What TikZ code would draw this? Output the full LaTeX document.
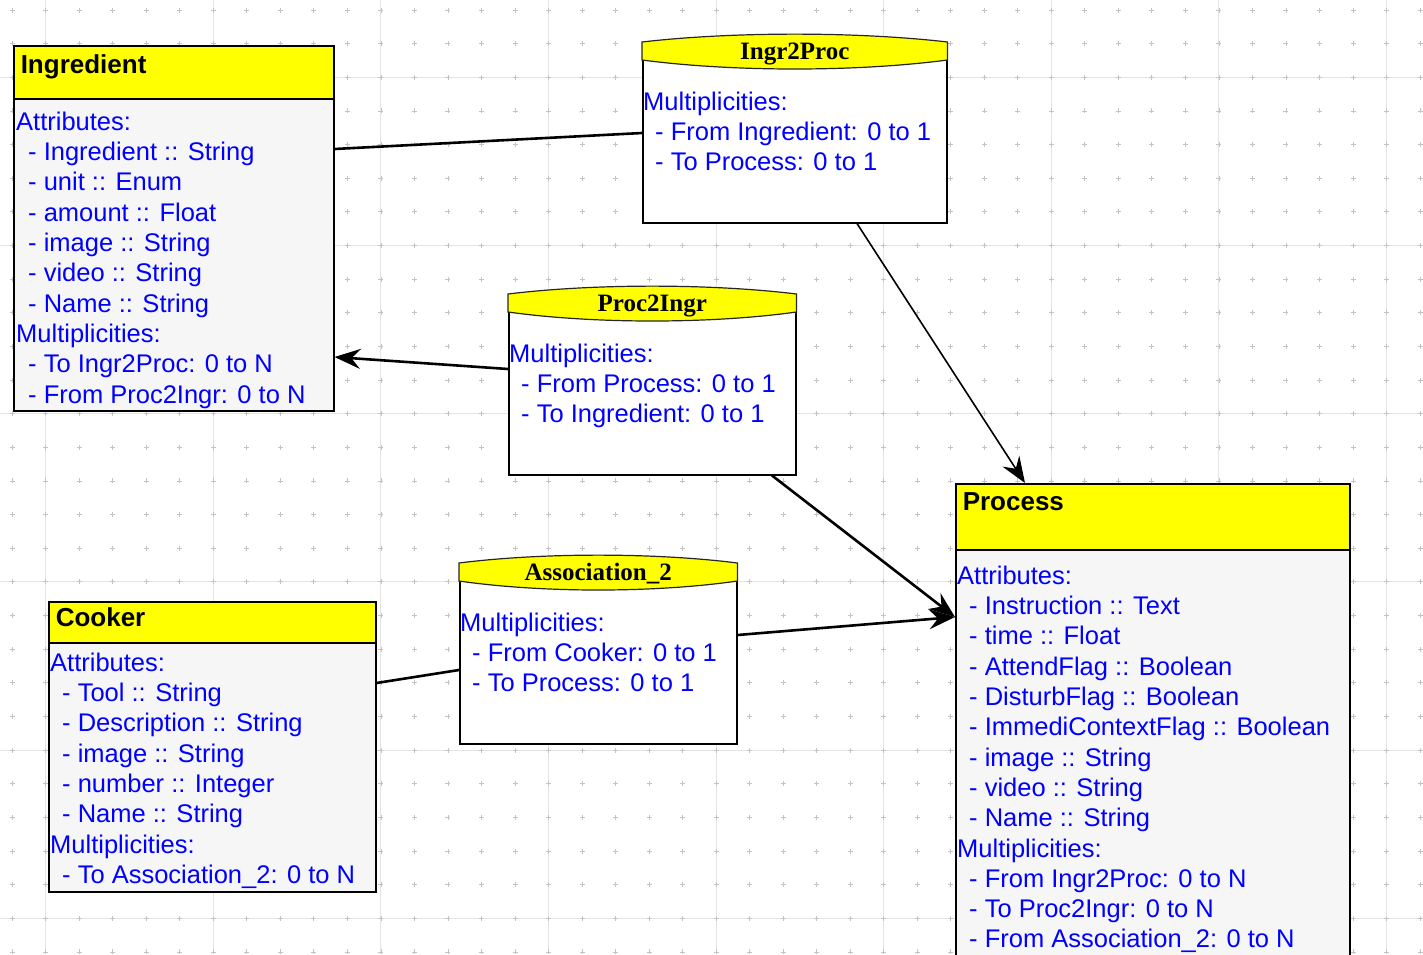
\documentclass[tikz,border=0pt]{standalone}
\usepackage{fontspec}
\setmainfont{Liberation Sans}
\newfontfamily\assocfont{Liberation Serif}
\usetikzlibrary{arrows.meta, positioning}
\definecolor{headcolor}{RGB}{255, 255, 0}
\definecolor{bodycolor}{RGB}{246, 246, 246}
\definecolor{fieldcolor}{RGB}{0, 0, 255}
\definecolor{gridcolor}{RGB}{228, 228, 228}
\definecolor{dotcolor}{RGB}{195, 195, 195}
\newcommand{\fld}{\hspace*{12pt}-\ }
\tikzset{
    % Class boxes
    classhead/.style={
        draw=black, line width=1.5pt, fill=headcolor,
        anchor=north west, inner xsep=7pt, inner ysep=0pt, align=left,
        font=\fontsize{26}{30}\selectfont\bfseries
    },
    classbody/.style={draw=black, line width=1.5pt, fill=bodycolor, anchor=north west, inner sep=0pt},
    fieldtext/.style={inner sep=0pt, align=left, text=fieldcolor, font=\fontsize{25.5}{30.3}\selectfont},
    % Association boxes
    assocbody/.style={draw=black, line width=1.5pt, fill=white, anchor=north west, inner sep=0pt},
    assochead/.style={draw=black!85, line width=1.2pt, fill=headcolor},
    assoctitle/.style={anchor=base, inner sep=0pt, font=\assocfont\fontsize{25}{30}\selectfont\bfseries},
    % Connectors
    assoclink/.style={line width=2.6pt, black},
    thinlink/.style={line width=1.6pt, black},
    arrowlink/.style={-{Stealth[length=26pt, width=20pt, inset=9pt]}},
    % Grid
    gridline/.style={gridcolor, line width=1pt},
    griddot/.style={dotcolor, line width=0.8pt},
}

\begin{document}
\begin{tikzpicture}[x=1pt, y=-1pt]

\path[use as bounding box] (0,0) rectangle (1423,954);
\clip (0,0) rectangle (1423,954);

% Background grid
\foreach \gx in {0,...,8} \draw[gridline] (45.7+167.6*\gx, 0) -- (45.7+167.6*\gx, 954);
\foreach \gy in {0,...,5} \draw[gridline] (0, 77.3+168.2*\gy) -- (1423, 77.3+168.2*\gy);
\foreach \gx in {0,...,42} \foreach \gy in {0,...,28}
    \draw[griddot] (12.2+33.52*\gx, 10+33.64*\gy) +(-2.5,0) -- +(2.5,0) +(0,-2.5) -- +(0,2.5);

% Ingredient class
\node (ingredient) [classhead, text width=306pt, text height=28pt, text depth=25pt] at (13,45) {Ingredient};
\node (ingrbody) [classbody, minimum width=320pt, minimum height=312pt] at (13,98) {};
\node (ingrfields) [fieldtext, below right=13.7pt and 3pt of ingrbody.north west] {
    Attributes:\\
    \fld Ingredient :: String\\
    \fld unit :: Enum\\
    \fld amount :: Float\\
    \fld image :: String\\
    \fld video :: String\\
    \fld Name :: String\\
    Multiplicities:\\
    \fld To Ingr2Proc: 0 to N\\
    \fld From Proc2Ingr: 0 to N
};

% Cooker class
\node (cooker) [classhead, text width=313pt, text height=25pt, text depth=16pt] at (48,601) {Cooker};
\node (cookerbody) [classbody, minimum width=327pt, minimum height=249pt] at (48,642) {};
\node (cookerfields) [fieldtext, below right=10.7pt and 2pt of cookerbody.north west] {
    Attributes:\\
    \fld Tool :: String\\
    \fld Description :: String\\
    \fld image :: String\\
    \fld number :: Integer\\
    \fld Name :: String\\
    Multiplicities:\\
    \fld To Association\_2: 0 to N
};

% Process class
\node (process) [classhead, text width=380pt, text height=27pt, text depth=39pt] at (955,483) {Process};
\node (procbody) [classbody, minimum width=394pt, minimum height=430pt] at (955,549) {};
\node (procfields) [fieldtext, below right=16.7pt and 2pt of procbody.north west] {
    Attributes:\\
    \fld Instruction :: Text\\
    \fld time :: Float\\
    \fld AttendFlag :: Boolean\\
    \fld DisturbFlag :: Boolean\\
    \fld ImmediContextFlag :: Boolean\\
    \fld image :: String\\
    \fld video :: String\\
    \fld Name :: String\\
    Multiplicities:\\
    \fld From Ingr2Proc: 0 to N\\
    \fld To Proc2Ingr: 0 to N\\
    \fld From Association\_2: 0 to N
};

% Ingr2Proc association
\node (i2pbody) [assocbody, minimum width=304pt, minimum height=180pt] at (642,42) {};
\draw[assochead] (i2pbody.north west) .. controls +(91,-10.5) and +(-91,-10.5) .. (i2pbody.north east)
    -- ++(0,18) .. controls +(-91,12) and +(91,12) .. ([yshift=-18pt]i2pbody.north west) -- cycle;
\node (i2ptitle) [assoctitle] at ([yshift=-17pt]i2pbody.north) {Ingr2Proc};
\node (i2pfields) [fieldtext, below right=49.7pt and 1pt of i2pbody.north west] {
    Multiplicities:\\
    \fld From Ingredient: 0 to 1\\
    \fld To Process: 0 to 1
};

% Proc2Ingr association
\node (p2ibody) [assocbody, minimum width=287pt, minimum height=180pt] at (508,294) {};
\draw[assochead] (p2ibody.north west) .. controls +(86,-10.5) and +(-86,-10.5) .. (p2ibody.north east)
    -- ++(0,18) .. controls +(-86,12) and +(86,12) .. ([yshift=-18pt]p2ibody.north west) -- cycle;
\node (p2ititle) [assoctitle] at ([yshift=-17pt]p2ibody.north) {Proc2Ingr};
\node (p2ifields) [fieldtext, below right=49.7pt and 1pt of p2ibody.north west] {
    Multiplicities:\\
    \fld From Process: 0 to 1\\
    \fld To Ingredient: 0 to 1
};

% Association_2
\node (a2body) [assocbody, minimum width=277pt, minimum height=180pt] at (459,563) {};
\draw[assochead] (a2body.north west) .. controls +(83,-10.5) and +(-83,-10.5) .. (a2body.north east)
    -- ++(0,18) .. controls +(-83,12) and +(83,12) .. ([yshift=-18pt]a2body.north west) -- cycle;
\node (a2title) [assoctitle] at ([yshift=-17pt]a2body.north) {Association\_2};
\node (a2fields) [fieldtext, below right=49.7pt and 1pt of a2body.north west] {
    Multiplicities:\\
    \fld From Cooker: 0 to 1\\
    \fld To Process: 0 to 1
};

% Connectors
\draw[assoclink] ([yshift=-51pt]ingrbody.north east) -- ([yshift=-91pt]i2pbody.north west);
\draw[thinlink, arrowlink] ([xshift=215pt]i2pbody.south west) -- ([xshift=70pt]process.north west);
\draw[assoclink, arrowlink] ([yshift=-75pt]p2ibody.north west) -- ([yshift=-259pt]ingrbody.north east);
\draw[assoclink, arrowlink] ([xshift=264pt]p2ibody.south west) -- ([yshift=-68pt]procbody.north west);
\draw[assoclink, arrowlink] ([yshift=-72pt]a2body.north east) -- ([yshift=-68pt]procbody.north west);
\draw[assoclink] ([yshift=-41pt]cookerbody.north east) -- ([yshift=-107pt]a2body.north west);

\end{tikzpicture}
\end{document}
